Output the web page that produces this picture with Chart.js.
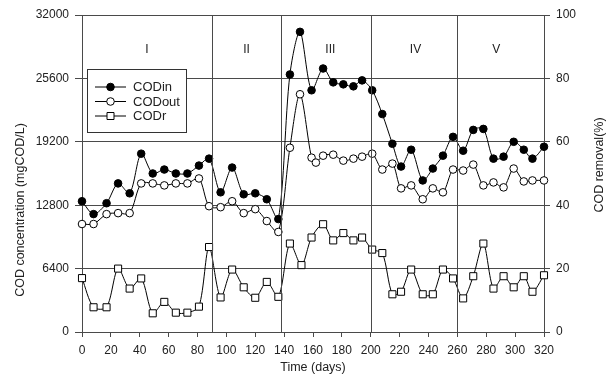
<!DOCTYPE html>
<html lang="en">
<head>
<meta charset="UTF-8">
<title>COD concentration and removal</title>
<script src="https://cdn.jsdelivr.net/npm/chart.js"></script>
<style>
  html, body { margin: 0; padding: 0; background: #fff; }
  #wrap { width: 614px; height: 384px; }
</style>
</head>
<body>
<div id="wrap"><canvas id="codChart" width="614" height="384"></canvas></div>
<script>
// values
const codInDays = [0, 8, 17, 25, 33, 41, 49, 57, 65, 73, 81, 88, 96, 104, 112, 120, 128, 136, 144, 151, 159, 167, 174, 181, 188, 194, 201, 208, 215, 221, 228, 236, 243, 250, 257, 264, 271, 278, 285, 292, 299, 306, 312, 320];
const codInValues = [13200, 11900, 13000, 15000, 14000, 18000, 16000, 16400, 16000, 16000, 16800, 17500, 14100, 16600, 13900, 14000, 13400, 11400, 26000, 30300, 24400, 26600, 25200, 25000, 24800, 25400, 24400, 22000, 19000, 16700, 18400, 15300, 16500, 17800, 19700, 18300, 20400, 20500, 17500, 17700, 19200, 18400, 17500, 18700];

const codOutDays = [0, 8, 17, 25, 33, 41, 49, 57, 65, 73, 81, 88, 96, 104, 112, 120, 128, 136, 144, 151, 159, 162, 167, 174, 181, 188, 194, 201, 208, 215, 221, 228, 236, 243, 250, 257, 264, 271, 278, 285, 292, 299, 306, 312, 320];
const codOutValues = [10900, 10900, 11900, 12000, 12000, 15000, 15000, 14800, 15000, 15000, 15500, 12700, 12600, 13200, 12000, 12400, 11200, 10100, 18600, 24000, 17600, 17100, 17800, 17900, 17300, 17500, 17700, 18000, 16400, 17000, 14500, 14800, 13400, 14500, 14100, 16400, 16300, 16900, 14800, 15100, 14600, 16500, 15200, 15300, 15300];

const codRDays = [0, 8, 17, 25, 33, 41, 49, 57, 65, 73, 81, 88, 96, 104, 112, 120, 128, 136, 144, 152, 159, 167, 174, 181, 188, 194, 201, 208, 215, 221, 228, 236, 243, 250, 257, 264, 271, 278, 285, 292, 299, 306, 312, 320];
const codRValues = [17, 7.8, 7.8, 20, 13.7, 16.9, 5.9, 9.5, 6.1, 6.1, 8, 26.8, 10.9, 19.7, 14.1, 10.8, 15.8, 11.1, 27.9, 21.1, 29.8, 34, 28.9, 31.2, 28.9, 29.8, 26, 24.9, 11.9, 12.7, 19.7, 11.9, 11.9, 19.7, 16.9, 10.6, 17.6, 27.9, 13.7, 17.6, 14.1, 17.6, 12.7, 17.9];

// stage boundaries and stage labels
const stageBounds = [90, 138, 200, 260];
const stageNames = ['I', 'II', 'III', 'IV', 'V'];
const stageLabelDays = [45, 114, 172, 231, 287];

const FONT = "'Liberation Sans', Arial, sans-serif";
const INK = '#222';
const GRID = '#4a4a4a';

function pts(days, vals) {
    return days.map((d, i) => ({ x: d, y: vals[i] }));
}

// separators, stage names, legend box and axis titles
const decorations = {
    id: 'decorations',
    afterDatasetsDraw(chart) {
        const ctx = chart.ctx;
        const x = chart.scales.x;
        const area = chart.chartArea;
        ctx.save();
        ctx.strokeStyle = GRID;
        ctx.lineWidth = 1;
        stageBounds.forEach(d => {
            const px = Math.round(x.getPixelForValue(d)) + 0.5;
            ctx.beginPath();
            ctx.moveTo(px, area.top);
            ctx.lineTo(px, area.bottom);
            ctx.stroke();
        });

        ctx.fillStyle = INK;
        ctx.font = '12px ' + FONT;
        ctx.textAlign = 'center';
        ctx.textBaseline = 'middle';
        stageNames.forEach((n, i) => {
            ctx.fillText(n, x.getPixelForValue(stageLabelDays[i]), 50);
        });

        // legend
        ctx.fillStyle = '#fff';
        ctx.fillRect(87, 69, 100, 64);
        ctx.strokeStyle = '#333';
        ctx.strokeRect(87.5, 69.5, 99, 63);
        const rows = [
            { label: 'CODin', style: 'circle', fill: '#000', y: 87 },
            { label: 'CODout', style: 'circle', fill: '#fff', y: 101.5 },
            { label: 'CODr', style: 'rect', fill: '#fff', y: 116 }
        ];
        rows.forEach(r => {
            ctx.strokeStyle = '#000';
            ctx.beginPath();
            ctx.moveTo(95, r.y);
            ctx.lineTo(126, r.y);
            ctx.stroke();
            ctx.fillStyle = r.fill;
            ctx.beginPath();
            if (r.style === 'circle') {
                ctx.arc(110.5, r.y, 3.8, 0, Math.PI * 2);
            } else {
                ctx.rect(107, r.y - 3.5, 7, 7);
            }
            ctx.fill();
            ctx.stroke();
            ctx.fillStyle = INK;
            ctx.font = '13px ' + FONT;
            ctx.textAlign = 'left';
            ctx.fillText(r.label, 133, r.y + 0.5);
        });

        // axis titles
        ctx.font = '12.5px ' + FONT;
        ctx.textAlign = 'center';
        ctx.fillStyle = INK;
        ctx.save();
        ctx.translate(21, 210);
        ctx.rotate(-Math.PI / 2);
        ctx.fillText('COD concentration (mgCOD/L)', 0, 0);
        ctx.restore();
        ctx.save();
        ctx.translate(600, 165);
        ctx.rotate(-Math.PI / 2);
        ctx.fillText('COD removal(%)', 0, 0);
        ctx.restore();
        ctx.fillText('Time (days)', (area.left + area.right) / 2, 368);
        ctx.restore();
    }
};

const lineStyle = {
    borderColor: '#000',
    borderWidth: 1,
    pointBorderColor: '#000',
    pointBorderWidth: 1,
    tension: 0.3,
    clip: false
};

const plain = v => String(v);

const ctx = document.getElementById('codChart').getContext('2d');
const codChart = new Chart(ctx, {
    type: 'line',
    data: {
        datasets: [
            Object.assign({
                label: 'CODr', data: pts(codRDays, codRValues), yAxisID: 'y1',
                pointStyle: 'rect', pointRadius: 5, pointBackgroundColor: '#fff'
            }, lineStyle),
            Object.assign({
                label: 'CODout', data: pts(codOutDays, codOutValues), yAxisID: 'y',
                pointStyle: 'circle', pointRadius: 3.8, pointBackgroundColor: '#fff'
            }, lineStyle),
            Object.assign({
                label: 'CODin', data: pts(codInDays, codInValues), yAxisID: 'y',
                pointStyle: 'circle', pointRadius: 3.8, pointBackgroundColor: '#000'
            }, lineStyle)
        ]
    },
    options: {
        responsive: false,
        animation: false,
        events: [],
        layout: { padding: { top: 15, left: 0, right: 0, bottom: 0 } },
        plugins: { legend: { display: false }, tooltip: { enabled: false } },
        scales: {
            x: {
                type: 'linear', min: 0, max: 320,
                ticks: { stepSize: 20, color: INK, font: { family: FONT, size: 12 }, padding: 6, maxRotation: 0, callback: plain },
                grid: { drawOnChartArea: false, tickLength: 5, color: GRID },
                border: { color: GRID },
                afterFit(s) { s.height = 52; }
            },
            y: {
                position: 'left', min: 0, max: 32000,
                ticks: { stepSize: 6400, color: INK, font: { family: FONT, size: 12 }, padding: 6, callback: plain },
                grid: { color: GRID, tickLength: 7 },
                border: { color: GRID },
                afterFit(s) { s.width = 82; }
            },
            y1: {
                position: 'right', min: 0, max: 100,
                ticks: { stepSize: 20, color: INK, font: { family: FONT, size: 12 }, padding: 6, callback: plain },
                grid: { drawOnChartArea: false, color: GRID, tickLength: 6 },
                border: { color: GRID },
                afterFit(s) { s.width = 70; }
            }
        }
    },
    plugins: [decorations]
});
</script>
</body>
</html>
